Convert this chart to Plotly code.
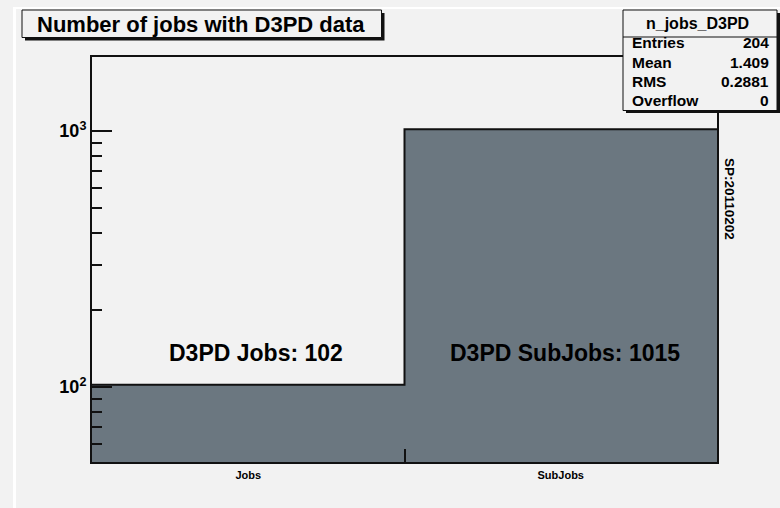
import plotly.graph_objects as go

# ---- data ----
categories = ["Jobs", "SubJobs"]
values = [102, 1015]
bin_edges = [0, 1, 2]
stat_names = ["Entries", "Mean", "RMS", "Overflow"]
stat_values = ["204", "1.409", "0.2881", "0"]
hist_name = "n_jobs_D3PD"
title = "Number of jobs with D3PD data"
labels = ["D3PD Jobs", "D3PD SubJobs"]
side_text = "SP:20110202"
y_major = [100, 1000]
y_major_text = ["10<sup>2</sup>", "10<sup>3</sup>"]
y_minor = [60, 70, 80, 90, 200, 300, 400, 500, 600, 700, 800, 900]

W, H = 780, 508
L, R, T, B = 92, 717, 57, 462
BG = "#f2f2f2"
FILL = "#6b7780"
DARK = "#111111"
FONT = "Liberation Sans"


def px(x):
    return (x - L) / (R - L)


def py(y):
    return (B - y) / (B - T)


centers = [(bin_edges[i] + bin_edges[i + 1]) / 2 for i in range(len(values))]

fig = go.Figure()
fig.add_trace(go.Bar(x=centers, y=values, width=[1] * len(values),
                     marker=dict(color=FILL, line=dict(width=0)),
                     showlegend=False, hoverinfo="skip"))
fig.add_trace(go.Scatter(x=bin_edges, y=values + [values[-1]], mode="lines",
                         line=dict(color=DARK, width=2, shape="hv"),
                         showlegend=False, hoverinfo="skip"))

shapes = []
annotations = []

# page border lines
shapes.append(dict(type="line", xref="paper", yref="paper", x0=px(14.5), x1=px(14.5),
                   y0=py(8), y1=py(H), line=dict(color="white", width=3), layer="below"))
shapes.append(dict(type="line", xref="paper", yref="paper", x0=px(13), x1=px(W),
                   y0=py(8), y1=py(8), line=dict(color="white", width=2), layer="below"))

# title box with shadow
shapes.append(dict(type="rect", xref="paper", yref="paper", x0=px(25), x1=px(384.5),
                   y0=py(40.5), y1=py(13), fillcolor=DARK, line=dict(width=0)))
shapes.append(dict(type="rect", xref="paper", yref="paper", x0=px(22), x1=px(381.5),
                   y0=py(37.5), y1=py(10), fillcolor=BG, line=dict(color=DARK, width=1)))
annotations.append(dict(xref="paper", yref="paper", x=px(201), y=py(24), text="<b>" + title + "</b>",
                        showarrow=False, xanchor="center", yanchor="middle",
                        font=dict(family=FONT, size=22, color="black")))

# stats box
shapes.append(dict(type="rect", xref="paper", yref="paper", x0=px(626), x1=px(780),
                   y0=py(113), y1=py(13), fillcolor=DARK, line=dict(width=0)))
shapes.append(dict(type="rect", xref="paper", yref="paper", x0=px(623), x1=px(777),
                   y0=py(110.5), y1=py(10), fillcolor=BG, line=dict(color=DARK, width=1)))
shapes.append(dict(type="line", xref="paper", yref="paper", x0=px(623), x1=px(777),
                   y0=py(37), y1=py(37), line=dict(color=DARK, width=1)))
annotations.append(dict(xref="paper", yref="paper", x=px(697), y=py(23.5), text="<b>" + hist_name + "</b>",
                        showarrow=False, xanchor="center", yanchor="middle",
                        font=dict(family=FONT, size=16, color="black")))
row_y = [42, 62, 81.5, 101]
for name, val, yy in zip(stat_names, stat_values, row_y):
    annotations.append(dict(xref="paper", yref="paper", x=px(630), y=py(yy), text="<b>" + name + "</b>",
                            showarrow=False, xanchor="left", yanchor="middle",
                            font=dict(family=FONT, size=15.5, color="black")))
    annotations.append(dict(xref="paper", yref="paper", x=px(771), y=py(yy), text="<b>" + val + "</b>",
                            showarrow=False, xanchor="right", yanchor="middle",
                            font=dict(family=FONT, size=15.5, color="black")))

# in-plot labels
label_x = [0.525, 1.515]
for lab, v, xx in zip(labels, values, label_x):
    annotations.append(dict(xref="x", yref="paper", x=xx, y=py(353), text=f"<b>{lab}: {v}</b>",
                            showarrow=False, xanchor="center", yanchor="middle",
                            font=dict(family=FONT, size=23, color="black")))

# side text
annotations.append(dict(xref="paper", yref="paper", x=px(730), y=py(199), text="<b>" + side_text + "</b>",
                        showarrow=False, textangle=90, xanchor="center", yanchor="middle",
                        font=dict(family=FONT, size=13.5, color="black")))

fig.update_layout(
    width=W, height=H,
    margin=dict(l=L, r=W - R, t=T, b=H - B, pad=0),
    paper_bgcolor=BG, plot_bgcolor=BG,
    shapes=shapes, annotations=annotations,
    bargap=0,
    xaxis=dict(range=[bin_edges[0], bin_edges[-1]], showgrid=False, zeroline=False,
               showline=True, linecolor=DARK, linewidth=2, mirror=True,
               tickmode="array", tickvals=centers, ticktext=["<b>" + c + "</b>" for c in categories],
               ticks="", ticklen=0, ticklabelstandoff=2,
               tickfont=dict(family=FONT, size=11, color="black"),
               minor=dict(tickmode="array", tickvals=bin_edges[1:-1], ticks="inside",
                          ticklen=13, tickwidth=1.5, tickcolor=DARK, showgrid=False)),
    yaxis=dict(type="log", range=[1.707, 3.289], showgrid=False, zeroline=False,
               showline=True, linecolor=DARK, linewidth=2, mirror=True,
               tickmode="array", tickvals=y_major, ticktext=["<b>" + t + "</b>" for t in y_major_text],
               ticks="inside", ticklen=20, tickwidth=1.5, tickcolor=DARK,
               ticklabelstandoff=0,
               tickfont=dict(family=FONT, size=18, color="black"),
               minor=dict(tickmode="array", tickvals=y_minor, ticks="inside",
                          ticklen=10, tickwidth=1.5, tickcolor=DARK, showgrid=False)),
)

fig.write_html("out.html")
